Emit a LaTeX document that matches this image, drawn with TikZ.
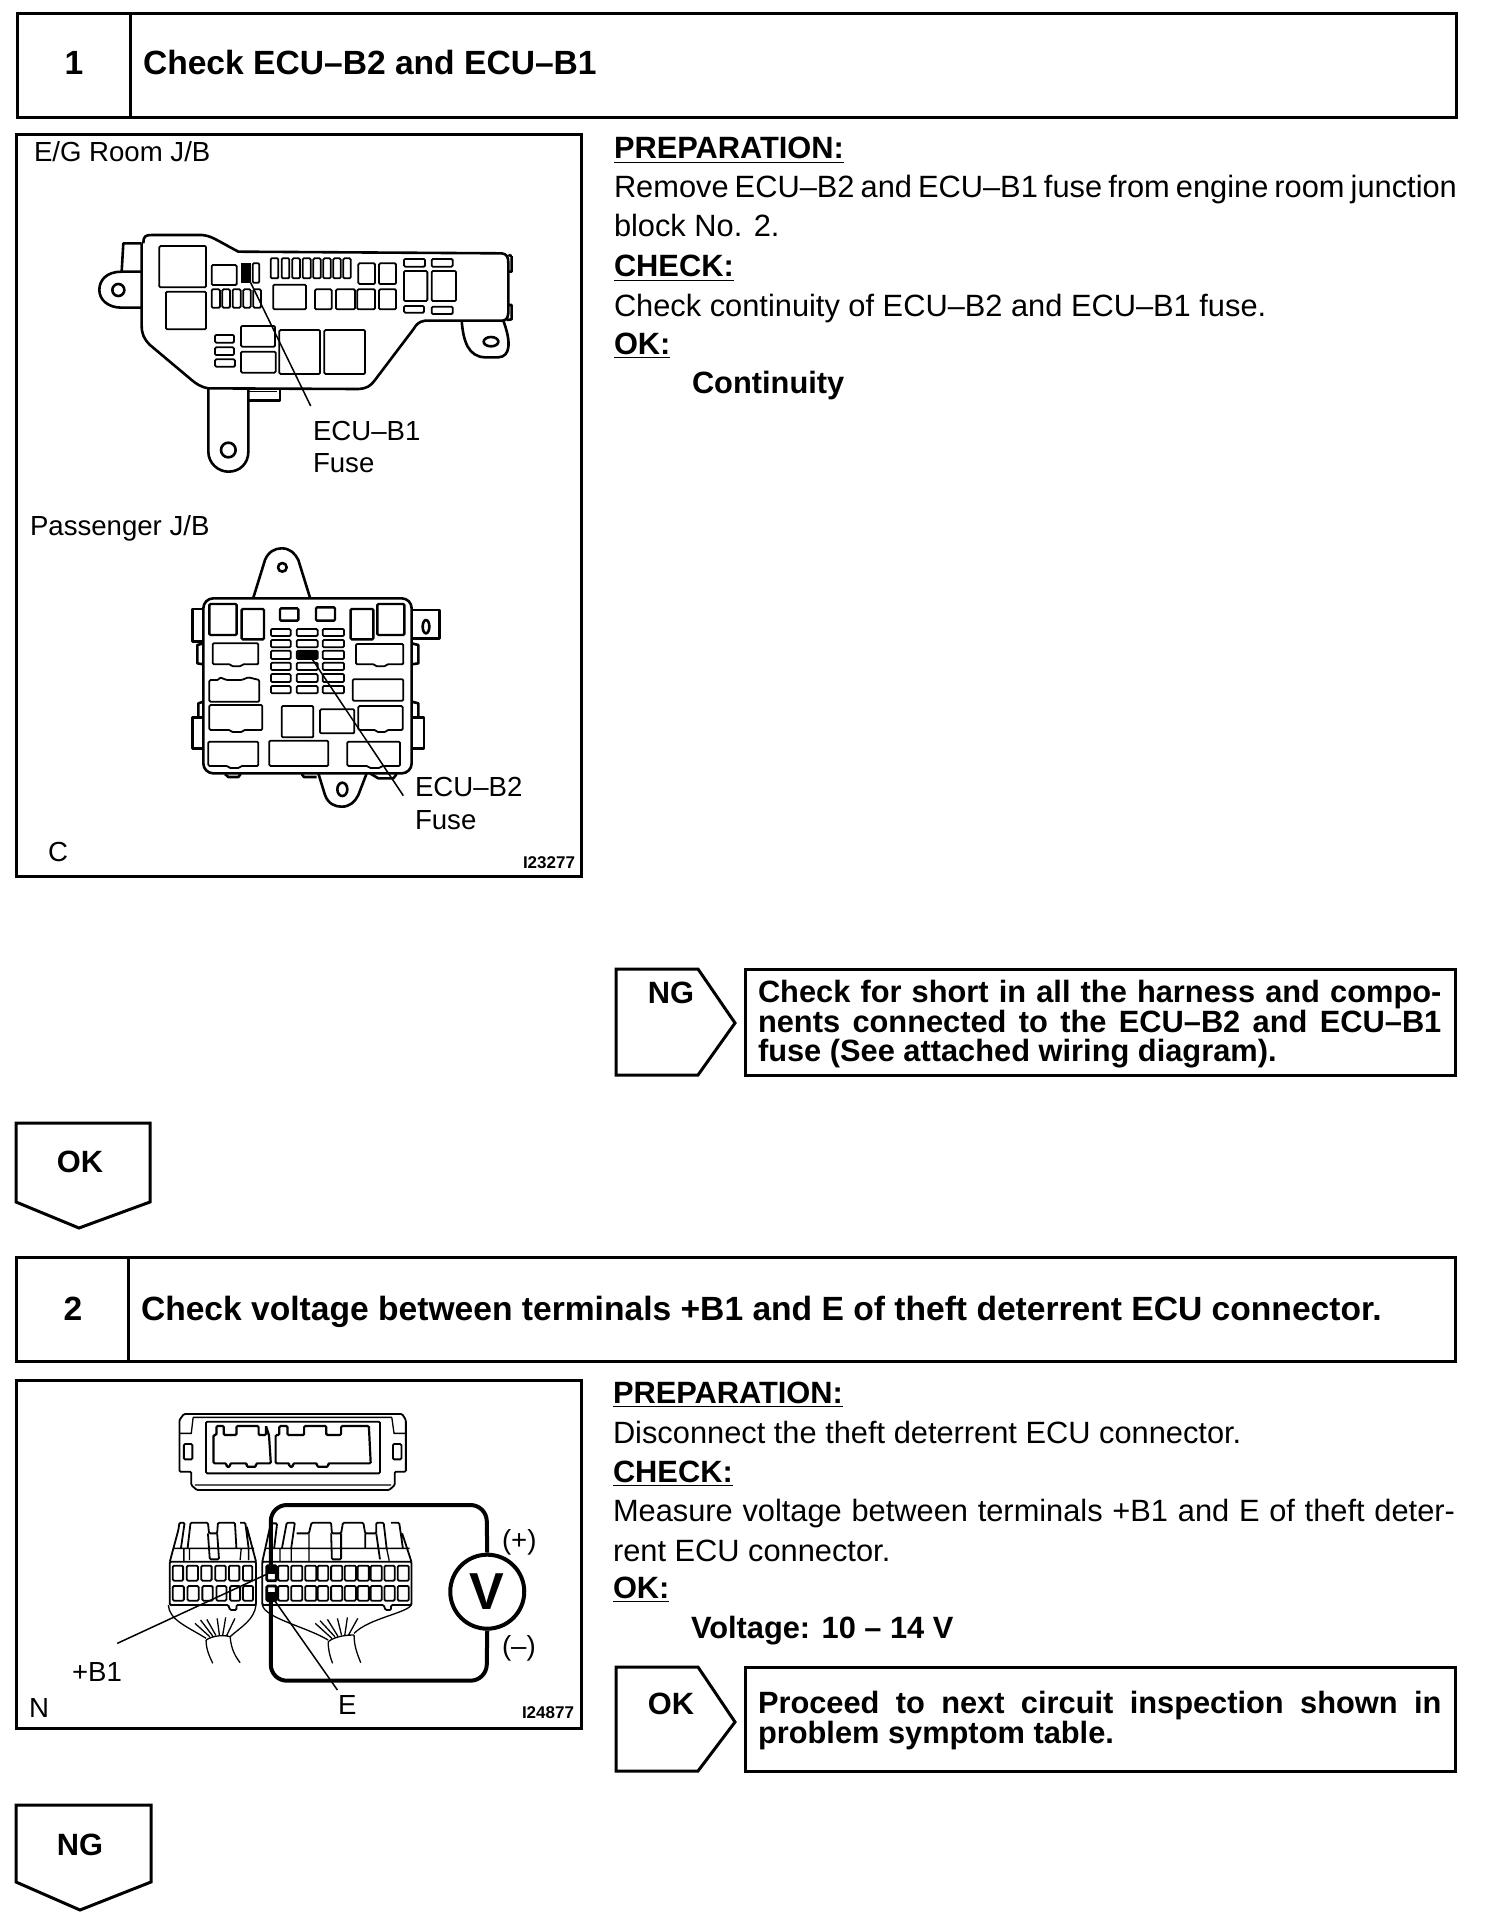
\documentclass[tikz,border=0pt]{standalone}
\usepackage{fontspec}
\setmainfont{Liberation Sans}
\newcommand\fsBody{\fontsize{15.4}{18}\selectfont}
\newcommand\fsTitle{\fontsize{16.8}{18}\bfseries\selectfont}
\newcommand\fsBox{\fontsize{15.4}{18}\bfseries\selectfont}
\newcommand\fsFig{\fontsize{13.8}{16}\selectfont}
\newcommand\fsId{\fontsize{8.5}{10}\bfseries\selectfont}
\newcommand\ul[1]{\underline{#1}}
\tikzset{
  frameline/.style={draw=black,line width=1.5pt,line join=miter},
  wireloop/.style={draw=black,line width=2pt,line join=round},
  thinpart/.style={draw=black,line width=0.9pt,rounded corners=0.6pt},
  fineline/.style={draw=black,line width=0.65pt},
  leader/.style={draw=black,line width=0.75pt},
  outline/.style={draw=black,line width=1.3pt,line join=round},
  txt/.style={anchor=base west,inner sep=0pt,outer sep=0pt,text=black},
  ctxt/.style={anchor=base,inner sep=0pt,outer sep=0pt,text=black},
  rtxt/.style={anchor=base east,inner sep=0pt,outer sep=0pt,text=black},
  crop/.style={x=0.16667pt,y=-0.16667pt},
  cropw/.style={x=0.18498pt,y=-0.16667pt},
}
\begin{document}
\begin{tikzpicture}[x=0.5pt,y=-0.5pt]
\useasboundingbox (0,0) rectangle (1504,1926);
% ---------- Step 1 header
\draw[frameline] (17,14) rectangle (1456,118);
\draw[frameline] (130,14) -- (130,118);
\node[ctxt,font=\fsTitle] (n1) at (74,75) {1};
\node[txt,font=\fsTitle] (t1) at (143,75) {Check ECU–B2 and ECU–B1};
% ---------- Figure frame 1
\draw[frameline] (16,135) rectangle (581,876);
\node[txt,font=\fsFig] (l1) at (34,162) {E/G Room J/B};
\node[txt,font=\fsFig] (l2) at (30,535) {Passenger J/B};
\node[txt,font=\fsFig] (l3) at (48,861) {C};
\node[rtxt,font=\fsId] (l4) at (575,868) {I23277};
\node[txt,font=\fsFig] (l5) at (313,440) {ECU–B1};
\node[txt,font=\fsFig] (l6) at (313,472) {Fuse};
\node[txt,font=\fsFig] (l7) at (415,796) {ECU–B2};
\node[txt,font=\fsFig] (l8) at (415,829) {Fuse};
% ---------- E/G room block
\begin{scope}[shift={(80,210)},crop]
\draw[outline] (190,100) .. controls (190,80) and (195,75) .. (215,75) -- (365,75)
  .. controls (395,78) and (400,85) .. (475,125) -- (1265,130)
  .. controls (1280,132) and (1285,140) .. (1285,160) -- (1285,310)
  .. controls (1283,328) and (1275,332) .. (1265,332) -- (1035,332)
  .. controls (1015,335) and (1008,345) .. (1000,358) -- (885,510)
  .. controls (870,530) and (860,535) .. (835,537) -- (385,535)
  .. controls (360,530) and (350,522) .. (335,510) -- (210,405)
  .. controls (190,385) and (185,370) .. (185,345) -- (185,100);
\draw[outline] (1295,138) -- (1285,135) (1295,138) -- (1295,185) -- (1285,185)
  (1285,285) -- (1295,285) -- (1295,328) -- (1280,330);
\draw[outline] (185,100) -- (130,100) -- (125,185);
\draw[outline] (185,185) -- (125,185) .. controls (80,185) and (58,210) .. (58,240)
  .. controls (58,270) and (85,293) .. (125,293) -- (185,293);
\draw[outline] (115,240) circle[radius=18];
\draw[outline] (1145,332) .. controls (1150,395) and (1165,440) .. (1215,442)
  -- (1255,442) .. controls (1290,440) and (1295,400) .. (1270,332);
\draw[outline] (1233,395) ellipse[x radius=22,y radius=14];
\draw[outline] (385,535) -- (385,725) .. controls (385,760) and (415,785) .. (445,785)
  .. controls (480,785) and (505,760) .. (505,725) -- (505,535);
\draw[outline] (445,720) circle[radius=22];
\draw[outline] (505,572) -- (600,572) -- (600,537);
\draw[fineline] (505,545) -- (590,545);
\foreach \a/\b/\c/\d in {238/108/378/232,258/245/378/358,395/165/470/225,518/160/538/218,
  835/160/885/222,897/160/948/222,972/147/1035/170,1055/147/1118/170,972/183/1042/273,1055/183/1128/273,
  972/288/1032/308,1055/290/1118/312,395/238/420/293,427/238/450/293,458/238/482/293,490/238/512/293,520/238/543/293,
  580/224/678/298,705/238/755/298,768/238/825/298,832/238/885/298,897/238/948/298,
  483/348/585/410,483/425/587/488,598/360/720/492,733/360/855/492,405/375/462/398,405/412/462/435,405/448/465/470,
  572/145/595/205,605/145/628/205,637/145/660/205,668/145/692/205,700/145/722/205,730/145/752/205,760/145/782/205,790/145/812/205}
  \draw[thinpart] (\a,\b) rectangle (\c,\d);
\fill[black] (482,160) rectangle (512,218);
\coordinate (f1) at (512,218);
\coordinate (f1end) at (692,588);
\draw[leader] (f1) -- (f1end);
\end{scope}
% ---------- Passenger block
\begin{scope}[shift={(170,530)},crop]
\draw[outline,rounded corners=5pt] (100,205) rectangle (725,730);
\draw[outline] (250,203) -- (285,90) .. controls (295,65) and (315,55) .. (335,55)
  .. controls (360,55) and (375,70) .. (385,90) -- (420,203);
\draw[outline] (337,112) circle[radius=13];
\draw[outline] (445,730) -- (465,795) .. controls (475,822) and (495,830) .. (515,830)
  .. controls (540,830) and (555,815) .. (565,795) -- (590,730);
\draw[outline] (517,778) ellipse[x radius=15,y radius=20];
\draw[outline] (725,240) -- (808,240) -- (808,325) -- (725,325);
\draw[outline] (768,290) ellipse[x radius=10,y radius=20];
\draw[outline] (97,237) -- (68,237) -- (68,335) -- (97,335);
\draw[outline] (97,562) -- (68,562) -- (68,655) -- (97,655);
\draw[outline] (728,562) -- (762,562) -- (762,655) -- (728,655);
\draw[outline] (725,340) -- (745,345) -- (745,400) -- (725,403);
\draw[outline] (725,515) -- (745,520) -- (745,560);
\draw[outline] (100,340) -- (82,345) -- (82,400) -- (100,403);
\draw[outline] (100,515) -- (85,520) -- (85,560);
\draw[outline] (165,732) -- (175,741) -- (205,741) -- (212,732);
\draw[outline] (395,732) -- (402,741) -- (440,741);
\draw[outline] (600,730) -- (625,745) -- (670,745) -- (680,732);
\foreach \a/\b/\c/\d in {118/222/200/315,215/237/282/328,330/235/385/272,438/232/495/272,542/237/610/328,622/222/703/315}
  \draw[thinpart,line width=1.2pt] (\a,\b) rectangle (\c,\d);
\foreach \y/\z in {297/318,330/352,362/387,398/420,432/456,468/490}
  \foreach \a/\c in {303/362,380/443,458/522}
    \draw[thinpart] (\a,\y) rectangle (\c,\z);
\fill[black] (380,362) rectangle (443,387);
% relay outlines with a small bump
\foreach \a/\b/\c/\d in {128/340/265/403,558/342/700/403,118/525/277/600,565/528/698/600,115/635/265/708,532/635/690/708}
  \draw[thinpart] (\a,\b) -- (\c,\b) -- (\c,\d) -- ({\a+0.65*(\c-\a)},\d) -- ({\a+0.62*(\c-\a)},{\d+6}) -- ({\a+0.42*(\c-\a)},{\d+6}) -- ({\a+0.39*(\c-\a)},\d) -- (\a,\d) -- cycle;
\foreach \a/\b/\c/\d in {548/448/700/512,298/632/475/708,335/528/430/622,450/538/553/610}
  \draw[thinpart] (\a,\b) rectangle (\c,\d);
\draw[thinpart] (118,450) -- (145,450) -- (150,442) -- (170,450) -- (215,450) -- (235,442) -- (268,450) -- (268,515) -- (118,515) -- cycle;
\coordinate (f2) at (425,385);
\coordinate (f2end) at (700,797);
\draw[leader] (f2) -- (f2end);
\end{scope}
% ---------- Right column, step 1
\node[txt,font=\fsBox] (a1) at (614,159) {\ul{PREPARATION:}};
\node[txt,font=\fsBody] (a2) at (614,198) {\makebox[421.5pt][s]{Remove ECU–B2 and ECU–B1 fuse from engine room junction}};
\node[txt,font=\fsBody] (a3) at (614,237) {block No. 2.};
\node[txt,font=\fsBox] (a4) at (614,277) {\ul{CHECK:}};
\node[txt,font=\fsBody] (a5) at (614,316) {Check continuity of ECU–B2 and ECU–B1 fuse.};
\node[txt,font=\fsBox] (a6) at (614,354) {\ul{OK:}};
\node[txt,font=\fsBox] (a7) at (692,393) {Continuity};
% ---------- NG result
\draw[frameline] (616,969) -- (698,969) -- (735,1023) -- (698,1075) -- (616,1075) -- cycle;
\node[ctxt,font=\fsBox] (ng1) at (671,1003) {NG};
\draw[frameline] (745,969) rectangle (1455,1075);
\node[txt,font=\fsBox] (ng2) at (758,1002) {\makebox[341.7pt][s]{Check for short in all the harness and compo-}};
\node[txt,font=\fsBox] (ng3) at (758,1032) {\makebox[341.7pt][s]{nents connected to the ECU–B2 and ECU–B1}};
\node[txt,font=\fsBox] (ng4) at (758,1061) {fuse (See attached wiring diagram).};
% ---------- OK down
\draw[frameline] (16,1123) -- (150,1123) -- (150,1202) -- (79,1228) -- (16,1202) -- cycle;
\node[ctxt,font=\fsBox] (ok1) at (80,1172) {OK};
% ---------- Step 2 header
\draw[frameline] (16,1257) rectangle (1455,1361);
\draw[frameline] (128,1257) -- (128,1361);
\node[ctxt,font=\fsTitle] (n2) at (73,1320) {2};
\node[txt,font=\fsTitle] (t2) at (141,1320) {Check voltage between terminals +B1 and E of theft deterrent ECU connector.};
% ---------- Figure frame 2
\draw[frameline] (16,1380) rectangle (581,1728);
\node[txt,font=\fsFig] (m1) at (29,1717) {N};
\node[rtxt,font=\fsId] (m2) at (574,1718) {I24877};
\node[txt,font=\fsFig] (m3) at (72,1681) {+B1};
\node[txt,font=\fsFig] (m4) at (338,1714) {E};
\node[txt,font=\fsFig] (m5) at (502,1549) {(+)};
\node[txt,font=\fsFig] (m6) at (502,1655) {(–)};
\begin{scope}[shift={(10,1370)},cropw]
% upper connector
\draw[thinpart] (470,132) -- (1060,132) -- (1070,150) -- (1070,305) -- (1040,305) -- (1040,345) -- (1025,360) -- (505,360) -- (490,345) -- (490,305) -- (458,305) -- (458,150) -- cycle;
\draw[fineline] (495,142) -- (1032,142) (495,142) -- (490,190) -- (458,190) (1032,142) -- (1038,190) -- (1070,190) (500,345) -- (1030,345);
\draw[thinpart] (470,222) rectangle (493,268);
\draw[thinpart] (1035,222) rectangle (1058,268);
\draw[thinpart] (530,155) rectangle (1000,310);
\draw[thinpart,line width=1.1pt] (550,195) -- (558,195) -- (558,168) -- (578,168) -- (578,195) -- (612,195) -- (612,168) -- (672,168) -- (672,195) -- (692,195) -- (692,168) -- (700,195) -- (705,280) -- (665,280) -- (665,290) -- (640,290) -- (640,280) -- (595,280) -- (595,290) -- (585,290) -- (585,280) -- (550,280) -- cycle;
\draw[thinpart,line width=1.1pt] (718,195) -- (728,195) -- (728,168) -- (750,168) -- (750,195) -- (795,195) -- (795,168) -- (855,168) -- (855,195) -- (895,195) -- (895,168) -- (970,168) -- (975,280) -- (860,280) -- (860,290) -- (830,290) -- (830,280) -- (765,280) -- (765,290) -- (755,290) -- (755,280) -- (718,280) -- cycle;
% left harness connector
\draw[thinpart] (432,575) -- (455,480) -- (458,458) -- (472,458) -- (462,535);
\draw[thinpart] (480,535) -- (488,458) -- (535,458) -- (538,490) -- (560,490) -- (562,458) -- (608,458) -- (612,535);
\draw[thinpart] (622,458) -- (636,458) -- (645,535) (640,470) -- (665,575);
\draw[thinpart] (535,490) -- (540,568) -- (565,568) -- (560,490);
\draw[fineline] (440,535) -- (660,535) (470,535) -- (470,575) (485,535) -- (485,570) (625,535) -- (622,570) (645,535) -- (645,570);
\draw[thinpart] (432,575) -- (665,575) -- (665,705) -- (612,705) -- (612,720) -- (595,720) -- (590,705) -- (500,705) -- (432,705) -- cycle;
\foreach \a/\b in {440/468,478/508,517/545,555/583,592/620,630/655}
  \draw[thinpart] (\a,587) rectangle (\b,632);
\foreach \a/\b in {440/470,480/510,520/548,558/585,595/622,630/657}
  \draw[thinpart] (\a,648) rectangle (\b,692);
\draw[fineline] (428,705) .. controls (430,750) and (480,770) .. (530,805) (665,705) .. controls (660,750) and (625,770) .. (595,800);
\draw[fineline] (530,810) .. controls (530,840) and (540,860) .. (548,880) (595,800) .. controls (598,840) and (610,860) .. (622,878);
\draw[fineline] (540,800) -- (500,760) (548,798) -- (515,750) (556,795) -- (532,748) (566,795) -- (560,745) (575,795) -- (583,742) (585,798) -- (608,745) (530,810) .. controls (550,795) and (580,795) .. (595,800);
% right harness connector
\draw[thinpart] (682,575) -- (705,460) -- (722,460) -- (714,535);
\draw[thinpart] (735,535) -- (748,458) -- (770,458) -- (760,535);
\draw[thinpart] (775,490) -- (808,490) -- (815,458) -- (868,458) -- (870,490) -- (895,490) -- (900,458) -- (955,458) -- (960,490) -- (990,490) -- (990,458) -- (1010,458) -- (1018,535);
\draw[thinpart] (1030,458) -- (1052,458) -- (1062,535) (1060,490) -- (1085,575);
\draw[thinpart] (868,490) -- (870,568) -- (895,568) -- (895,490) (960,490) -- (960,535) (990,490) -- (1000,568);
\draw[fineline] (690,535) -- (1080,535) (730,535) -- (730,575) (760,535) -- (760,575) (808,490) -- (808,575) (1018,535) -- (1025,572);
\draw[thinpart] (682,575) -- (1085,575) -- (1085,705) -- (1030,705) -- (1030,720) -- (1015,720) -- (1010,705) -- (682,705) -- cycle;
\foreach \a/\b in {725/752,760/790,798/828,832/860,868/898,905/935,940/970,975/1005,1012/1040,1048/1078}
  {\draw[thinpart] (\a,587) rectangle (\b,632);
   \draw[thinpart] (\a,648) rectangle (\b,692);}
\draw[thinpart,line width=1.4pt] (694,587) rectangle (720,632);
\draw[thinpart,line width=1.4pt] (694,648) rectangle (720,692);
\fill[black] (694,587) rectangle (720,612);
\fill[black] (694,665) rectangle (720,692);
\draw[fineline] (682,705) .. controls (690,745) and (800,770) .. (860,810) (1085,705) .. controls (1070,730) and (970,745) .. (930,790);
\draw[fineline] (860,815) .. controls (860,840) and (865,860) .. (872,880) (930,795) .. controls (930,830) and (940,855) .. (948,878);
\draw[fineline] (870,805) -- (825,760) (878,800) -- (838,752) (886,798) -- (858,748) (896,795) -- (885,745) (905,795) -- (912,742) (915,795) -- (940,745) (860,815) .. controls (880,798) and (910,795) .. (930,795);
% V meter
\node[draw=black,line width=2pt,circle,minimum width=37pt,inner sep=0pt,font=\fontsize{26}{28}\bfseries\selectfont] (vm) at (1290,665) {V};
\coordinate (tp) at (705,600);
\coordinate (tn) at (705,680);
\draw[wireloop,rounded corners=8pt] (tp) -- (705,405) -- (1288,405) -- (vm.north);
\draw[wireloop,rounded corners=8pt] (vm.south) -- (1288,932) -- (705,932) -- (tn);
\coordinate (b1a) at (695,612);
\coordinate (b1b) at (290,820);
\coordinate (ea) at (708,680);
\coordinate (eb) at (885,960);
\draw[leader] (b1a) -- (b1b);
\draw[leader] (ea) -- (eb);
\end{scope}
% ---------- Right column, step 2
\node[txt,font=\fsBox] (c1) at (613,1403) {\ul{PREPARATION:}};
\node[txt,font=\fsBody] (c2) at (613,1443) {Disconnect the theft deterrent ECU connector.};
\node[txt,font=\fsBox] (c3) at (613,1482) {\ul{CHECK:}};
\node[txt,font=\fsBody] (c4) at (613,1521) {\makebox[421pt][s]{Measure voltage between terminals +B1 and E of theft deter-}};
\node[txt,font=\fsBody] (c5) at (613,1561) {rent ECU connector.};
\node[txt,font=\fsBox] (c6) at (613,1598) {\ul{OK:}};
\node[txt,font=\fsBox] (c7) at (691,1638) {Voltage: 10 – 14 V};
% ---------- OK result
\draw[frameline] (616,1667) -- (698,1667) -- (735,1722) -- (698,1771) -- (616,1771) -- cycle;
\node[ctxt,font=\fsBox] (ok2) at (671,1714) {OK};
\draw[frameline] (745,1667) rectangle (1455,1771);
\node[txt,font=\fsBox] (ok3) at (758,1713) {\makebox[341.7pt][s]{Proceed to next circuit inspection shown in}};
\node[txt,font=\fsBox] (ok4) at (758,1743) {problem symptom table.};
% ---------- NG down
\draw[frameline] (16,1805) -- (151,1805) -- (151,1882) -- (80,1910) -- (16,1882) -- cycle;
\node[ctxt,font=\fsBox] (ng5) at (80,1855) {NG};
\end{tikzpicture}
\end{document}
